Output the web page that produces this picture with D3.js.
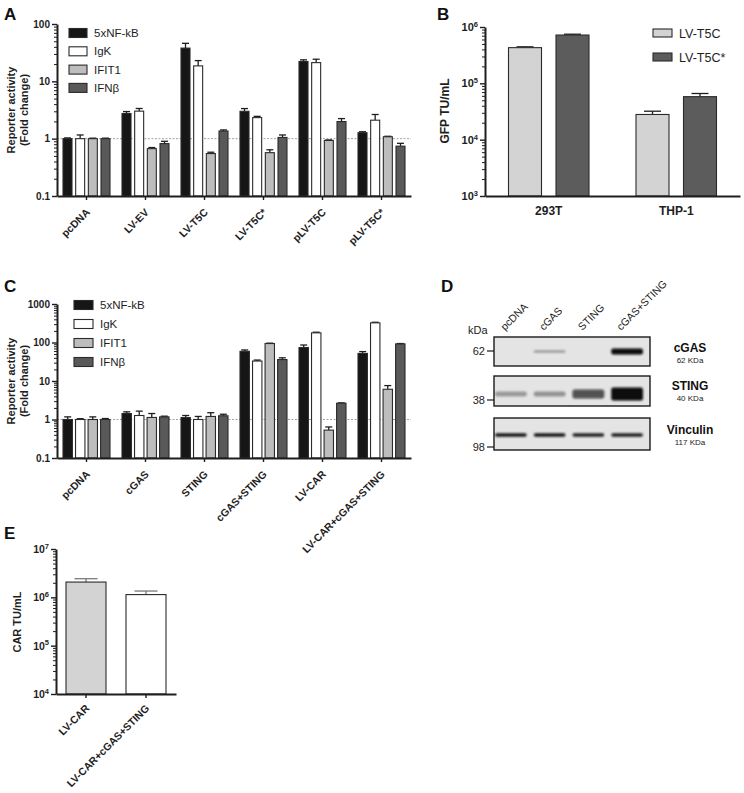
<!DOCTYPE html>
<html><head><meta charset="utf-8">
<script src="https://cdn.jsdelivr.net/npm/d3@7"></script>
<style>
body{margin:0;background:#fff;}
svg{display:block;font-family:"Liberation Sans",Arial,Helvetica,sans-serif;}
</style></head><body>
<svg id="fig" width="744" height="793"></svg>
<script>
// ---------- Panel A data ----------
const groupsA = ["pcDNA","LV-EV","LV-T5C","LV-T5C*","pLV-T5C","pLV-T5C*"];
const reporters = ["5xNF-kB","IgK","IFIT1","IFNβ"];
const nfkbA  = [1.0, 2.75, 38, 3.0, 22.2, 1.27];
const igkA   = [1.0, 3.02, 18.6, 2.33, 21.2, 2.1];
const ifit1A = [1.0, 0.67, 0.55, 0.57, 0.93, 1.08];
const ifnbA  = [1.0, 0.82, 1.36, 1.05, 1.99, 0.74];
const nfkbAErr  = [1.03, 2.97, 46, 3.35, 23.7, 1.32];
const igkAErr   = [1.16, 3.36, 23, 2.45, 24.3, 2.64];
const ifit1AErr = [1.02, 0.70, 0.58, 0.64, 0.95, 1.1];
const ifnbAErr  = [1.02, 0.90, 1.42, 1.16, 2.24, 0.83];
const ticksA = [0.1, 1, 10, 100];

// ---------- Panel B data ----------
const groupsB = ["293T","THP-1"];
const vectorsB = ["LV-T5C","LV-T5C*"];
const lvT5C     = [4.3e5, 2.8e4];
const lvT5Cstar = [7.2e5, 5.8e4];
const lvT5CErr     = [4.45e5, 3.2e4];
const lvT5CstarErr = [7.45e5, 6.6e4];
const ticksB = [1e3, 1e4, 1e5, 1e6];

// ---------- Panel C data ----------
const groupsC = ["pcDNA","cGAS","STING","cGAS+STING","LV-CAR","LV-CAR+cGAS+STING"];
const nfkbC  = [1.0, 1.43, 1.12, 59, 74, 52];
const igkC   = [1.0, 1.27, 1.0, 33, 178, 324];
const ifit1C = [1.0, 1.13, 1.2, 94, 0.53, 6.1];
const ifnbC  = [1.0, 1.17, 1.25, 36, 2.65, 92];
const nfkbCErr  = [1.17, 1.58, 1.27, 64, 86, 58];
const igkCErr   = [1.05, 1.65, 1.2, 35, 185, 335];
const ifit1CErr = [1.17, 1.43, 1.5, 96, 0.64, 7.6];
const ifnbCErr  = [1.06, 1.22, 1.37, 40, 2.7, 94];
const ticksC = [0.1, 1, 10, 100, 1000];

// ---------- Panel D data (western blot) ----------
const lanesD = ["pcDNA","cGAS","STING","cGAS+STING"];
const proteinsD = ["cGAS","STING","Vinculin"];
const proteinSizes = ["62 KDa","40 KDa","117 KDa"];
const markersD = ["62","38","98"];
const cgasBand  = [0, 0.22, 0, 1];
const stingBand = [0.22, 0.25, 0.6, 1];
const vincBand  = [0.9, 0.9, 0.85, 0.85];

// ---------- Panel E data ----------
const groupsE = ["LV-CAR","LV-CAR+cGAS+STING"];
const carTU    = [2.07e6, 1.14e6];
const carTUErr = [2.43e6, 1.35e6];
const ticksE = [1e4, 1e5, 1e6, 1e7];

const svg = d3.select("#fig");
const INK = "#1e1e1e";

function minorTicks(domain){
  const out=[]; const e0=Math.round(Math.log10(domain[0])), e1=Math.round(Math.log10(domain[1]));
  for(let e=e0;e<e1;e++) for(let k=2;k<=9;k++) out.push(k*Math.pow(10,e));
  return out;
}

function panel(o){
  const g = svg.append("g");
  const y = d3.scaleLog().domain(o.domain).range([o.yBot, o.yTop]);
  const x = d3.scaleBand().domain(o.cats).range([o.x0, o.x1]);
  const inner = d3.scaleBand().domain(o.series).range([-o.half, o.half]).paddingInner(o.pad);
  if(o.dashed){
    g.append("line").attr("x1",o.x0).attr("x2",o.x1).attr("y1",y(1)).attr("y2",y(1))
      .attr("stroke","#8a8a8a").attr("stroke-width",0.8).attr("stroke-dasharray","2,1.5");
  }
  o.series.forEach((s,si)=>{
    const vals=o.values[si], errs=o.errors[si];
    const bw=inner.bandwidth();
    const cx=(c)=>x(c)+x.bandwidth()/2+inner(s)+bw/2;
    const eg=g.append("g").attr("stroke",o.errColor||INK).attr("stroke-width",1.3);
    eg.selectAll(null).data(o.cats).join("line")
      .attr("x1",cx).attr("x2",cx).attr("y1",(c,i)=>y(vals[i])).attr("y2",(c,i)=>y(errs[i]));
    eg.selectAll(null).data(o.cats).join("line")
      .attr("x1",c=>cx(c)-o.cap/2).attr("x2",c=>cx(c)+o.cap/2)
      .attr("y1",(c,i)=>y(errs[i])).attr("y2",(c,i)=>y(errs[i]));
    g.selectAll(null).data(o.cats).join("rect")
      .attr("x",c=>x(c)+x.bandwidth()/2+inner(s))
      .attr("y",(c,i)=>y(vals[i]))
      .attr("width",bw)
      .attr("height",(c,i)=>o.yBot-y(vals[i]))
      .attr("fill",(c,i)=>o.catFills?o.catFills[i]:o.fills[si]).attr("stroke","#2a2a2a").attr("stroke-width",1.1);
  });
  const ym = g.append("g").attr("transform",`translate(${o.x0},0)`)
    .call(d3.axisLeft(y).tickValues(minorTicks(o.domain)).tickSize(3).tickSizeOuter(0).tickFormat(""));
  ym.select(".domain").remove();
  ym.selectAll("line").attr("stroke",INK).attr("stroke-width",1);
  const ya = g.append("g").attr("transform",`translate(${o.x0},0)`)
    .call(d3.axisLeft(y).tickValues(o.ticks).tickSize(5).tickSizeOuter(0).tickPadding(2).tickFormat(o.fmt||(d=>String(d))));
  ya.select(".domain").attr("stroke",INK).attr("stroke-width",2);
  ya.selectAll("line").attr("stroke",INK).attr("stroke-width",1.4);
  ya.selectAll("text").attr("font-size",o.tickFont||10).attr("font-weight","bold").attr("fill",INK)
    .attr("font-family","Liberation Sans, Arial, sans-serif");
  if(o.sup){
    ya.selectAll(".tick text").each(function(d){
      const t=d3.select(this); t.text("10");
      t.append("tspan").attr("dy","-0.55em").attr("font-size",7.5).text(Math.round(Math.log10(d)));
    });
  }
  const xa = g.append("g").attr("transform",`translate(0,${o.yBot})`)
    .call(d3.axisBottom(x).tickSize(o.xTick==null?4:o.xTick).tickSizeOuter(0));
  xa.select(".domain").attr("stroke",INK).attr("stroke-width",2);
  xa.selectAll("line").attr("stroke",INK).attr("stroke-width",1.4);
  const xt = xa.selectAll(".tick text").attr("font-size",o.xFont||10.5).attr("font-weight","bold").attr("fill",INK)
    .attr("font-family","Liberation Sans, Arial, sans-serif");
  if(o.rotate){
    xt.attr("y",0).attr("dy",0).attr("text-anchor","end")
      .attr("transform",`translate(${o.rx},${o.ry}) rotate(-45)`);
  } else {
    xt.attr("y",o.ly).attr("dy",0);
  }
  o.ytitle.forEach((t,i)=>{
    g.append("text").attr("transform",`translate(${o.titleX[i]},${o.titleY}) rotate(-90)`)
      .attr("text-anchor","middle").attr("font-size",o.titleFont||11).attr("font-weight","bold")
      .attr("fill",INK).text(t);
  });
  if(o.legend){
    const L=o.legend;
    o.series.forEach((s,si)=>{
      const yy=L.y+si*L.dy;
      g.append("rect").attr("x",L.x).attr("y",yy-L.h/2).attr("width",L.w).attr("height",L.h)
        .attr("fill",o.fills[si]).attr("stroke","#2a2a2a").attr("stroke-width",1.1);
      g.append("text").attr("x",L.x+L.w+L.gap).attr("y",yy+L.font*0.36).attr("font-size",L.font)
        .attr("fill",INK).text(s);
    });
  }
  return g;
}

const fillsRep = ["#161616","#ffffff","#bdbdbd","#595959"];

// Panel A
panel({x0:57,x1:411,yTop:24,yBot:196,domain:[0.1,100],ticks:ticksA,cats:groupsA,series:reporters,
  values:[nfkbA,igkA,ifit1A,ifnbA],errors:[nfkbAErr,igkAErr,ifit1AErr,ifnbAErr],fills:fillsRep,
  half:23.5,pad:0.29,cap:7,dashed:true,rotate:true,rx:4,ry:17,
  ytitle:["Reporter activity","(Fold change)"],titleX:[15,28],titleY:110,
  legend:{x:69,y:33,dy:18.3,w:18,h:9,gap:7,font:11.5}});

// Panel C
panel({x0:57,x1:411,yTop:304,yBot:458,domain:[0.1,1000],ticks:ticksC,cats:groupsC,series:reporters,
  values:[nfkbC,igkC,ifit1C,ifnbC],errors:[nfkbCErr,igkCErr,ifit1CErr,ifnbCErr],fills:fillsRep,
  half:23.5,pad:0.25,cap:7,dashed:true,rotate:true,rx:4,ry:17,
  ytitle:["Reporter activity","(Fold change)"],titleX:[15,28],titleY:381,
  legend:{x:74,y:305,dy:19,w:19,h:9,gap:7,font:11.5}});

// Panel B
panel({x0:485,x1:740,yTop:27,yBot:196,domain:[1e3,1e6],ticks:ticksB,cats:groupsB,series:vectorsB,
  values:[lvT5C,lvT5Cstar],errors:[lvT5CErr,lvT5CstarErr],fills:["#d3d3d3","#5c5c5c"],
  half:40.25,pad:0.305,cap:17,dashed:false,rotate:false,ly:19,xFont:12,xTick:0,sup:true,tickFont:11,
  ytitle:["GFP TU/mL"],titleX:[449],titleY:111,titleFont:12,
  legend:{x:653,y:33,dy:24,w:19,h:8,gap:7,font:12.5}});

// Panel E
panel({x0:56,x1:176,yTop:549,yBot:694,domain:[1e4,1e7],ticks:ticksE,cats:groupsE,series:["CAR"],
  values:[carTU],errors:[carTUErr],fills:["#d3d3d3"],catFills:["#d3d3d3","#ffffff"],
  half:20,pad:0,cap:23,dashed:false,rotate:true,rx:4,ry:15,sup:true,tickFont:10.5,errColor:"#7a7a7a",
  ytitle:["CAR TU/mL"],titleX:[21],titleY:622,titleFont:11});

// Panel letters
[["A",4,20],["B",437,20],["C",4,292],["D",441,292],["E",4,539]].forEach(([t,x,y])=>{
  svg.append("text").attr("x",x).attr("y",y).attr("font-size",17).attr("font-weight","bold").attr("fill","#111").text(t);
});

// ---------- Panel D: western blot ----------
(function(){
  const g=svg.append("g");
  const defs=svg.append("defs");
  defs.append("filter").attr("id","blur").attr("x","-20%").attr("y","-100%").attr("width","140%").attr("height","300%")
    .append("feGaussianBlur").attr("stdDeviation","1.1 0.9");
  const lane=d3.scaleBand().domain(lanesD).range([495,643]).paddingInner(0.18);
  const rows=[{top:337,bot:366,band:cgasBand,yc:351.5,base:1.8,ext:4.2},
              {top:376,bot:406,band:stingBand,yc:394,base:2.5,ext:10.5},
              {top:418,bot:450,band:vincBand,yc:435,base:3.2,ext:0.5}];
  const markerY=[351,400,447];
  rows.forEach((r,ri)=>{
    g.append("rect").attr("x",494).attr("y",r.top).attr("width",156).attr("height",r.bot-r.top)
      .attr("fill","#e4e4e4").attr("stroke","#1a1a1a").attr("stroke-width",1.4);
    const bg=g.append("g").attr("filter","url(#blur)");
    bg.selectAll(null).data(lanesD).join("rect")
      .attr("x",d=>lane(d)).attr("width",lane.bandwidth())
      .attr("y",(d,i)=>r.yc-(r.base+r.ext*r.band[i])/2)
      .attr("height",(d,i)=>r.band[i]>0?(r.base+r.ext*r.band[i]):0)
      .attr("rx",2)
      .attr("fill","#0d0d0d").attr("fill-opacity",(d,i)=>Math.min(1,0.12+r.band[i]*0.95));
    g.append("line").attr("x1",487).attr("x2",494).attr("y1",markerY[ri]).attr("y2",markerY[ri])
      .attr("stroke","#1a1a1a").attr("stroke-width",1.2);
    g.append("text").attr("x",485).attr("y",markerY[ri]+4).attr("text-anchor","end")
      .attr("font-size",11).attr("fill","#222").text(markersD[ri]);
    const ly=[352,390,434][ri];
    g.append("text").attr("x",690).attr("y",ly).attr("text-anchor","middle").attr("font-size",12)
      .attr("font-weight","bold").attr("fill","#111").text(proteinsD[ri]);
    g.append("text").attr("x",690).attr("y",ly+11).attr("text-anchor","middle").attr("font-size",8)
      .attr("fill","#222").text(proteinSizes[ri]);
  });
  g.append("text").attr("x",468).attr("y",334).attr("font-size",11).attr("fill","#222").text("kDa");
  g.selectAll(null).data(lanesD).join("text")
    .attr("transform",d=>`translate(${lane(d)+lane.bandwidth()/2-6},331) rotate(-45)`)
    .attr("font-size",10.5).attr("fill","#222").text(d=>d);
})();
</script>
</body></html>
